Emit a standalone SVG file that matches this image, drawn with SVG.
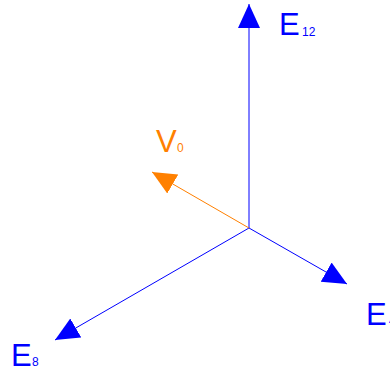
<svg xmlns="http://www.w3.org/2000/svg" width="390" height="372" viewBox="0 0 390 372">
<style>
.ax{stroke:#0000ff;stroke-width:1;fill:none}
.v{stroke:#ff8000;stroke-width:1;fill:none}
.lb{font-family:"Liberation Sans",Arial,sans-serif;font-size:31px}
.sb{font-family:"Liberation Sans",Arial,sans-serif;font-size:12px}
.blue{fill:#0000ff}
.orange{fill:#ff8000}
</style>
<defs>
<marker id="hb" markerUnits="userSpaceOnUse" markerWidth="26" markerHeight="24" refX="24" refY="11" orient="auto" viewBox="0 0 26 24"><path d="M0,0 L24,11 L0,22 z" fill="#0000ff"/></marker>
<marker id="ho" markerUnits="userSpaceOnUse" markerWidth="26" markerHeight="24" refX="24" refY="11" orient="auto" viewBox="0 0 26 24"><path d="M0,0 L24,11 L0,22 z" fill="#ff8000"/></marker>
</defs>
<g id="connectors">
<line class="ax" x1="249" y1="228" x2="249" y2="4" marker-end="url(#hb)"/>
<line class="ax" x1="249" y1="228" x2="347" y2="284" marker-end="url(#hb)"/>
<line class="ax" x1="249" y1="228" x2="55" y2="340" marker-end="url(#hb)"/>
<line class="v" x1="249" y1="228" x2="152" y2="172" marker-end="url(#ho)"/>
</g>
<g id="E12"><text class="lb blue" x="279" y="35">E</text><text class="sb blue" x="302" y="36">12</text></g>
<g id="V0"><text class="lb orange" x="156" y="152">V</text><text class="sb orange" x="177" y="152">0</text></g>
<g id="E4"><text class="lb blue" x="366" y="325">E</text><text class="sb blue" x="389" y="325">4</text></g>
<g id="E8"><text class="lb blue" x="11" y="366">E</text><text class="sb blue" x="32" y="366">8</text></g>
</svg>
